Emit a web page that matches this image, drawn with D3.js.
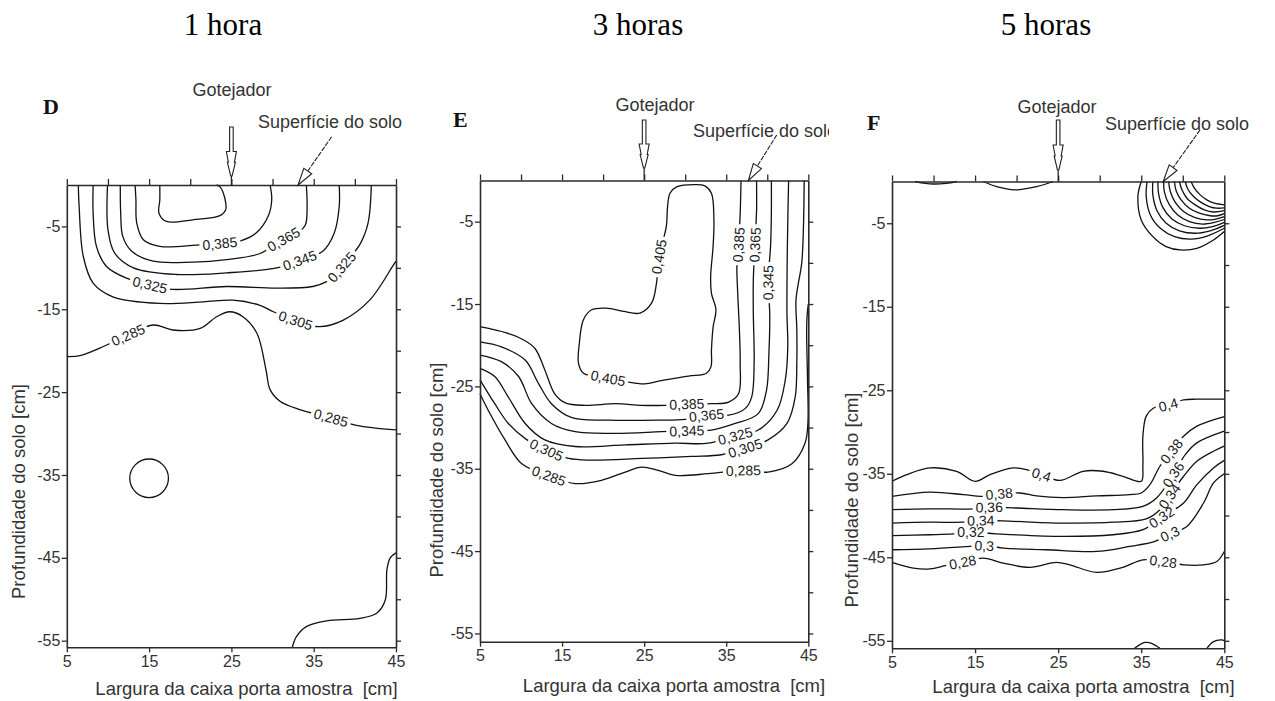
<!DOCTYPE html>
<html><head><meta charset="utf-8">
<script src="https://cdnjs.cloudflare.com/ajax/libs/d3/7.8.5/d3.min.js"></script>
<style>body{margin:0;background:#fff}svg{display:block}</style>
</head><body>
<svg id="chart" width="1275" height="701"></svg>
<script>
// ---------------- DATA ----------------
const panelTitles = ["1 hora", "3 horas", "5 horas"];
const panelLetters = ["D", "E", "F"];
const xDomain = [5, 45];
const xLabelTicks = [5, 15, 25, 35, 45];
const xMinorTicks = [5, 10, 15, 20, 25, 30, 35, 40, 45];
const yLabelTicks = [-5, -15, -25, -35, -45, -55];
const yMinorTicks = [-5, -10, -15, -20, -25, -30, -35, -40, -45, -50, -55];
const emitterX = 25;                       // Gotejador position (cm)
const surfaceTipX = [33.1, 37.7, 37.65];   // "Superfície do solo" arrow tips (cm)
const xTitle = "Largura da caixa porta amostra  [cm]";
const yTitle = "Profundidade do solo [cm]";

// Panel D (1 hora): contour lines [x cm, depth cm]
const contoursD = [
  {level: "0,405", closed: false, pts: [[16.3,0],[16.3,-1.8],[16.2,-3.4],[17.1,-4.4],[20.3,-4.2],[23.6,-3.7],[24.3,-3.0],[24.2,-1.6],[23.6,-0.2],[23.2,0]]},
  {level: "0,385", closed: false, pts: [[13.3,0],[13.4,-1.8],[13.5,-4.6],[14.3,-6.6],[16.3,-7.4],[20.75,-7.25],[23.6,-7.05],[26.2,-6.7],[28.0,-5.8],[29.45,-3.8],[29.9,-1.8],[29.7,0]]},
  {level: "0,365", closed: false, pts: [[11.5,0],[11.55,-3.4],[11.8,-6.2],[12.9,-8.0],[15.5,-9.2],[20.3,-9.3],[24.4,-9.0],[28.4,-8.3],[31.35,-6.55],[33.3,-5.6],[34.0,-4.8],[34.2,-2.6],[34.1,0]]},
  {level: "0,345", closed: false, pts: [[9.95,0],[10.0,-5.4],[10.8,-8.2],[13.1,-10.0],[18.3,-10.8],[24.4,-10.6],[30.5,-10.0],[33.3,-9.1],[36.1,-8.0],[37.5,-5.8],[38.1,-2.6],[38.1,0]]},
  {level: "0,325", closed: false, pts: [[8.2,0],[8.2,-3.4],[8.6,-7.4],[9.8,-9.8],[12.25,-11.25],[15.1,-12.05],[17.9,-12.6],[24.4,-12.25],[30.5,-12.45],[34.9,-12.25],[36.5,-11.7],[37.4,-11.0],[38.4,-9.9],[39.5,-8.6],[40.6,-7.2],[41.6,-4.6],[42.0,0]]},
  {level: "0,305", closed: false, pts: [[6.4,0],[6.5,-2.6],[7.0,-8.6],[8.2,-11.85],[10.6,-13.5],[16.3,-14.3],[21.6,-14.1],[25.2,-13.9],[28.4,-14.5],[30.1,-15.3],[32.8,-16.35],[35.7,-17.1],[38.6,-16.3],[41.8,-13.9],[44.6,-9.8],[45,-9.2]]},
  {level: "0,285", closed: false, pts: [[5,-20.7],[6.6,-20.6],[9.0,-19.7],[12.45,-18.1],[15.5,-16.9],[17.9,-17.5],[21.2,-17.3],[23.2,-15.9],[24.8,-15.3],[26.4,-15.9],[28.1,-17.9],[29.2,-22.3],[29.7,-24.7],[30.9,-26.1],[33.3,-27.1],[37.1,-28.1],[40.2,-29.0],[45,-29.55]]},
  {level: null, closed: true, pts: [[17.35,-35.4],[16.65,-33.75],[15,-33.07],[13.35,-33.75],[12.65,-35.4],[13.35,-37.05],[15,-37.73],[16.65,-37.05]]},
  {level: null, closed: false, pts: [[32.4,-55.8],[32.9,-54.5],[34.1,-53.3],[36.6,-52.6],[40.6,-52.3],[42.65,-51.7],[43.7,-50.1],[43.9,-46.4],[44.3,-45.0],[45,-44.4]]}
];
const labelsD = [
  {text: "0,385", x: 23.6, y: -7.05},
  {text: "0,365", x: 31.35, y: -6.55},
  {text: "0,345", x: 33.3, y: -9.1},
  {text: "0,325", x: 15.1, y: -12.05},
  {text: "0,325", x: 38.4, y: -9.9},
  {text: "0,305", x: 32.8, y: -16.35},
  {text: "0,285", x: 12.45, y: -18.1},
  {text: "0,285", x: 37.1, y: -28.1}
];

// Panel E (3 horas)
const contoursE = [
  {level: "0,405", closed: true, pts: [[31.2,-0.5],[29.0,-0.75],[28.15,-1.55],[27.85,-3.2],[27.7,-5.6],[26.8,-9.25],[26.5,-12.5],[25.9,-14.9],[24.5,-16.1],[22.5,-15.9],[20.4,-15.5],[18.6,-15.7],[17.6,-16.9],[17.1,-19.8],[17.0,-22.2],[17.6,-23.4],[20.6,-24.0],[23.9,-24.6],[25.1,-24.7],[27.1,-24.3],[30.4,-23.75],[32.6,-23.4],[33.15,-22.6],[33.2,-20.6],[33.4,-17.8],[33.75,-15.7],[33.2,-13.7],[33.1,-11.7],[33.4,-8.0],[33.5,-4.8],[33.2,-1.55],[32.4,-0.65]]},
  {level: "0,385", closed: false, pts: [[5,-17.75],[8.2,-18.5],[10.2,-19.3],[11.7,-20.4],[12.9,-23.0],[14.1,-25.9],[15.4,-27.0],[17.8,-27.3],[21.5,-27.1],[24.7,-27.3],[27.5,-27.3],[30.2,-27.15],[33.2,-27.1],[35.3,-26.9],[36.5,-25.9],[36.7,-22.2],[36.6,-18.0],[36.4,-13.7],[36.3,-10.5],[36.5,-7.8],[36.7,-4.0],[36.8,0]]},
  {level: "0,365", closed: false, pts: [[5,-19.6],[7.6,-20.2],[10.5,-21.8],[12.1,-24.6],[13.7,-27.1],[16.2,-28.8],[20.6,-29.1],[26.7,-29.1],[30.0,-29.0],[32.6,-28.5],[35.3,-28.5],[37.3,-27.7],[38.1,-26.3],[38.4,-22.2],[38.3,-16.1],[38.3,-12.1],[38.5,-7.8],[38.7,-3.5],[38.7,0]]},
  {level: "0,345", closed: false, pts: [[5,-21.2],[7.6,-22.0],[9.7,-23.8],[11.3,-27.1],[13.7,-29.5],[16.6,-30.5],[21.45,-30.7],[27.1,-30.5],[30.2,-30.4],[33.2,-30.3],[36.1,-29.5],[38.9,-28.3],[39.9,-25.5],[40.2,-21.0],[40.3,-16.1],[40.1,-12.4],[40.4,-8.0],[40.5,-4.0],[40.5,0]]},
  {level: "0,325", closed: false, pts: [[5,-22.8],[6.8,-23.8],[8.45,-26.3],[10.5,-29.5],[12.9,-31.5],[16.6,-32.3],[22.7,-32.1],[28.8,-31.9],[32.8,-31.9],[36.1,-31.0],[38.9,-30.3],[41.2,-27.9],[42.2,-24.2],[42.5,-20.2],[42.4,-16.1],[42.45,-8.0],[42.6,0]]},
  {level: "0,305", closed: false, pts: [[5,-24.2],[6.8,-27.1],[8.45,-29.5],[10.6,-31.4],[13.1,-32.7],[15.8,-33.75],[18.6,-33.95],[24.7,-33.75],[30.8,-33.5],[34.4,-33.3],[37.3,-32.5],[40.1,-31.5],[42.4,-29.5],[43.4,-26.3],[43.6,-22.2],[43.6,-18.0],[43.5,-14.5],[44.2,-10.0],[44.4,-6.0],[44.5,0]]},
  {level: "0,285", closed: false, pts: [[5,-25.9],[6.0,-27.9],[8.05,-31.5],[10.1,-34.4],[13.4,-35.85],[16.6,-36.8],[19.8,-36.4],[22.7,-35.4],[24.7,-34.8],[26.7,-35.2],[28.8,-35.8],[32.8,-35.6],[37.1,-35.2],[40.1,-35.4],[43.0,-34.4],[44.6,-31.9],[44.95,-29.5],[44.9,-24.0],[44.8,-18.5],[44.85,-16.5],[45,-15.0]]}
];
const labelsE = [
  {text: "0,405", x: 26.8, y: -9.25},
  {text: "0,405", x: 20.6, y: -24.0},
  {text: "0,385", x: 36.5, y: -7.8},
  {text: "0,365", x: 38.5, y: -7.8},
  {text: "0,345", x: 40.1, y: -12.4},
  {text: "0,385", x: 30.2, y: -27.15},
  {text: "0,365", x: 32.6, y: -28.5},
  {text: "0,345", x: 30.2, y: -30.4},
  {text: "0,325", x: 36.1, y: -31.0},
  {text: "0,305", x: 13.1, y: -32.7},
  {text: "0,305", x: 37.3, y: -32.5},
  {text: "0,285", x: 13.4, y: -35.85},
  {text: "0,285", x: 37.1, y: -35.2}
];

// Panel F (5 horas)
const contoursF = [
  {level: null, closed: false, pts: [[7.8,0],[9,-0.22],[10,-0.3],[11.5,-0.22],[12.8,0]]},
  {level: null, closed: false, pts: [[16.0,0],[17.6,-0.62],[19.8,-1.0],[22.4,-0.62],[24.4,0]]},
  {level: null, closed: false, pts: [[35.0,0],[34.6,-1.8],[35.0,-4.6],[36.4,-6.6],[38.0,-7.8],[39.7,-8.2],[41.7,-8.0],[43.7,-7.0],[45,-6.0]]},
  {level: null, closed: false, pts: [[35.7,0],[35.6,-1.8],[36.1,-4.0],[37.3,-5.6],[39.0,-6.6],[41.0,-6.9],[43.0,-6.5],[45,-5.6]]},
  {level: null, closed: false, pts: [[36.4,0],[36.4,-1.6],[36.9,-3.5],[38.0,-5.0],[39.6,-5.9],[41.5,-6.2],[43.3,-5.9],[45,-5.25]]},
  {level: null, closed: false, pts: [[37.0,0],[37.1,-1.5],[37.6,-3.1],[38.7,-4.5],[40.2,-5.3],[42.0,-5.6],[43.6,-5.4],[45,-4.9]]},
  {level: null, closed: false, pts: [[37.7,0],[37.8,-1.3],[38.4,-2.8],[39.4,-4.0],[40.8,-4.8],[42.4,-5.1],[43.8,-4.9],[45,-4.55]]},
  {level: null, closed: false, pts: [[38.3,0],[38.5,-1.2],[39.1,-2.5],[40.1,-3.6],[41.4,-4.3],[42.9,-4.6],[44.0,-4.5],[45,-4.2]]},
  {level: null, closed: false, pts: [[39.0,0],[39.2,-1.1],[39.8,-2.2],[40.8,-3.2],[42.0,-3.8],[43.3,-4.1],[44.2,-4.1],[45,-3.85]]},
  {level: null, closed: false, pts: [[39.6,0],[39.9,-1.0],[40.5,-2.0],[41.5,-2.8],[42.6,-3.4],[43.7,-3.65],[45,-3.5]]},
  {level: null, closed: false, pts: [[40.3,0],[40.6,-0.9],[41.3,-1.8],[42.2,-2.5],[43.2,-3.0],[44.1,-3.2],[45,-3.15]]},
  {level: null, closed: false, pts: [[41.0,0],[41.4,-0.8],[42.1,-1.6],[42.9,-2.2],[43.8,-2.6],[45,-2.8]]},
  {level: "0,4", closed: false, pts: [[5,-35.9],[6.77,-35.1],[9.57,-34.3],[12.78,-34.7],[15.0,-35.9],[16.8,-35.1],[19.6,-34.3],[21.2,-34.5],[23.0,-35.1],[25.2,-35.8],[28.0,-34.7],[30.4,-34.7],[32.8,-35.3],[35.0,-35.9],[35.2,-34.1],[35.2,-30.5],[35.6,-28.1],[36.45,-27.15],[38.25,-26.75],[40.1,-26.15],[41.7,-26.07],[45,-26.07]]},
  {level: "0,38", closed: false, pts: [[5,-37.7],[9.57,-37.2],[13.6,-37.5],[15.8,-37.7],[17.9,-37.4],[20.4,-37.3],[22.4,-37.65],[25.6,-37.85],[29.6,-37.65],[33.6,-37.5],[35.0,-37.3],[36.05,-36.3],[37.25,-34.1],[38.65,-32.3],[40.1,-30.5],[41.7,-29.3],[45,-28.15]]},
  {level: "0,36", closed: false, pts: [[5,-39.3],[9.57,-39.2],[14.8,-39.2],[16.7,-39.0],[20.0,-39.1],[25.6,-39.3],[31.6,-39.3],[35.2,-38.9],[36.85,-37.9],[38.85,-35.1],[40.3,-32.7],[41.7,-31.3],[45,-29.9]]},
  {level: "0,34", closed: false, pts: [[5,-40.9],[9.57,-40.8],[13.6,-40.8],[15.7,-40.6],[19.6,-40.7],[25.6,-40.9],[31.6,-40.8],[35.6,-40.4],[37.25,-39.3],[38.4,-37.7],[40.1,-35.3],[41.7,-33.5],[43.7,-32.3],[45,-31.7]]},
  {level: "0,32", closed: false, pts: [[5,-42.4],[9.57,-42.3],[12.4,-42.2],[14.5,-42.0],[17.6,-42.2],[25.6,-42.5],[31.6,-42.3],[35.2,-41.7],[37.45,-40.2],[40.1,-38.5],[41.7,-36.3],[43.7,-34.3],[45,-33.4]]},
  {level: "0,3", closed: false, pts: [[5,-44.1],[9.57,-44.0],[14.4,-43.7],[16.1,-43.6],[18.4,-43.9],[23.6,-44.1],[29.6,-44.3],[33.6,-43.7],[36.65,-43.1],[38.45,-42.2],[40.5,-41.3],[42.5,-38.5],[43.7,-36.1],[45,-35.0]]},
  {level: "0,28", closed: false, pts: [[5,-45.6],[7.57,-46.3],[9.57,-46.4],[11.4,-46.0],[13.5,-45.6],[16.0,-45.1],[18.4,-45.7],[21.6,-46.2],[24.8,-45.6],[26.4,-45.9],[29.6,-46.8],[32.8,-46.2],[35.2,-45.3],[37.65,-45.5],[40.1,-45.9],[42.5,-45.9],[44.1,-45.5],[45,-44.3]]},
  {level: null, closed: false, pts: [[34.2,-55.9],[35.45,-55.2],[36.25,-55.3],[37.25,-55.9]]},
  {level: null, closed: false, pts: [[42.9,-55.9],[43.7,-55.1],[44.7,-54.9],[45,-55.0]]}
];
const labelsF = [
  {text: "0,4", x: 23.0, y: -35.1},
  {text: "0,4", x: 38.25, y: -26.75},
  {text: "0,38", x: 17.9, y: -37.4},
  {text: "0,38", x: 38.65, y: -32.3},
  {text: "0,36", x: 16.7, y: -39.0},
  {text: "0,36", x: 38.85, y: -35.1},
  {text: "0,34", x: 15.7, y: -40.6},
  {text: "0,34", x: 38.4, y: -37.7},
  {text: "0,32", x: 14.5, y: -42.0},
  {text: "0,32", x: 37.45, y: -40.2},
  {text: "0,3", x: 16.1, y: -43.6},
  {text: "0,3", x: 38.45, y: -42.2},
  {text: "0,28", x: 13.5, y: -45.6},
  {text: "0,28", x: 37.65, y: -45.5}
];

// ---------------- LAYOUT ----------------
const W = 1275, H = 701;
const SANS = '"Liberation Sans", Arial, Helvetica, sans-serif';
const SERIF = '"Liberation Serif", "Times New Roman", serif';
const layout = [
  {x0: 66.8, x1: 396, y0: 185, y1: 647.3, yb: -55.8, title: [223, 35], letter: [43, 114],
   got: {tx: 232, ty: 96, top: 127, tip: 176}, sup: {tx: 258, ty: 128, sx: 331.7, sy: 136.7}, clip: null,
   ytitle: [18.5, 491.5], xtitle: [246.5, 695]},
  {x0: 480, x1: 808.3, y0: 180.5, y1: 641.7, yb: -56.0, title: [638, 35], letter: [453, 126.5],
   got: {tx: 655, ty: 111, top: 120, tip: 168}, sup: {tx: 693, ty: 137, sx: 776.7, sy: 135}, clip: 829,
   ytitle: [436.5, 470], xtitle: [674, 691.7]},
  {x0: 892, x1: 1224.3, y0: 181.5, y1: 648.3, yb: -55.9, title: [1046, 35], letter: [867, 130],
   got: {tx: 1057, ty: 113, top: 120, tip: 170}, sup: {tx: 1105, ty: 129.6, sx: 1200, sy: 130}, clip: null,
   ytitle: [851.7, 500], xtitle: [1083.5, 693]}
];

const svg = d3.select("#chart");
svg.append("rect").attr("width", W).attr("height", H).attr("fill", "#fff");
const defs = svg.append("defs");

function drawPanel(i, contours, labels) {
  const p = layout[i];
  const x = d3.scaleLinear().domain(xDomain).range([p.x0, p.x1]);
  const y = d3.scaleLinear().domain([0, p.yb]).range([p.y0, p.y1]);
  const g = svg.append("g");

  const lineOpen = d3.line().x(d => x(d[0])).y(d => y(d[1])).curve(d3.curveCatmullRom.alpha(0.5));
  const lineClosed = d3.line().x(d => x(d[0])).y(d => y(d[1])).curve(d3.curveCatmullRomClosed.alpha(0.5));

  const linesG = g.append("g");
  const labG = g.append("g");

  const placed = labels.map(l => {
    let best = -1, bd = Infinity, bi = 0;
    contours.forEach((c, ci) => {
      if (c.level !== l.text) return;
      c.pts.forEach((pt, k) => {
        const dx = x(pt[0]) - x(l.x), dy = y(pt[1]) - y(l.y);
        const dd = dx * dx + dy * dy;
        if (dd < bd) { bd = dd; best = ci; bi = k; }
      });
    });
    const c = contours[best], n = c.pts.length;
    const a = c.closed ? c.pts[(bi - 1 + n) % n] : c.pts[Math.max(0, bi - 1)];
    const b = c.closed ? c.pts[(bi + 1) % n] : c.pts[Math.min(n - 1, bi + 1)];
    let ang = Math.atan2(y(b[1]) - y(a[1]), x(b[0]) - x(a[0])) * 180 / Math.PI;
    if (ang >= 90) ang -= 180;
    if (ang < -90) ang += 180;
    return {l, ci: best, px: x(l.x), py: y(l.y), ang};
  });
  placed.forEach(d => {
    const t = labG.append("text")
      .attr("transform", `translate(${d.px},${d.py}) rotate(${d.ang})`)
      .attr("text-anchor", "middle").attr("dy", "0.36em")
      .attr("font-family", SANS).attr("font-size", 14).attr("fill", "#1a1a1a")
      .text(d.l.text);
    d.w = t.node().getComputedTextLength();
  });

  contours.forEach((c, ci) => {
    const mine = placed.filter(d => d.ci === ci);
    let maskId = null;
    if (mine.length) {
      maskId = `mask${i}_${ci}`;
      const m = defs.append("mask").attr("id", maskId).attr("maskUnits", "userSpaceOnUse")
        .attr("x", 0).attr("y", 0).attr("width", W).attr("height", H);
      m.append("rect").attr("width", W).attr("height", H).attr("fill", "#fff");
      mine.forEach(d => m.append("rect")
        .attr("x", -d.w / 2 - 3).attr("y", -7.5).attr("width", d.w + 6).attr("height", 15)
        .attr("transform", `translate(${d.px},${d.py}) rotate(${d.ang})`).attr("fill", "#000"));
    }
    linesG.append("path")
      .attr("d", (c.closed ? lineClosed : lineOpen)(c.pts))
      .attr("fill", "none").attr("stroke", "#111").attr("stroke-width", 1.3)
      .attr("mask", maskId ? `url(#${maskId})` : null);
  });

  // axes
  const axG = g.append("g").attr("font-family", SANS);
  const fmt = d => String(d);
  const top = axG.append("g").attr("transform", `translate(0,${y(0)})`)
    .call(d3.axisTop(x).tickValues(xMinorTicks).tickSize(6).tickSizeOuter(0).tickFormat(""));
  const bottom = axG.append("g").attr("transform", `translate(0,${y(p.yb)})`)
    .call(d3.axisBottom(x).tickValues(xLabelTicks).tickSize(5).tickSizeOuter(0).tickPadding(3).tickFormat(fmt));
  const left = axG.append("g").attr("transform", `translate(${x(5)},0)`)
    .call(d3.axisLeft(y).tickValues(yLabelTicks).tickSize(5).tickSizeOuter(0).tickPadding(1.5).tickFormat(fmt));
  const right = axG.append("g").attr("transform", `translate(${x(45)},0)`)
    .call(d3.axisRight(y).tickValues(yMinorTicks).tickSize(5).tickSizeOuter(0).tickFormat(""));
  [top, bottom, left, right].forEach(a => {
    a.attr("font-size", 16);
    a.selectAll("path.domain").attr("stroke", "#2a2a2a").attr("stroke-width", 1.6);
    a.selectAll(".tick line").attr("stroke", "#2a2a2a").attr("stroke-width", 1.3);
    a.selectAll(".tick text").attr("font-size", 16).attr("fill", "#333").attr("font-family", SANS);
  });

  // titles
  svg.append("text").attr("x", p.title[0]).attr("y", p.title[1]).attr("text-anchor", "middle")
    .attr("font-family", SERIF).attr("font-size", 31).attr("fill", "#000").text(panelTitles[i]);
  svg.append("text").attr("x", p.letter[0]).attr("y", p.letter[1])
    .attr("font-family", SERIF).attr("font-weight", "bold").attr("font-size", 22).attr("fill", "#111")
    .text(panelLetters[i]);
  svg.append("text").attr("x", p.xtitle[0]).attr("y", p.xtitle[1]).attr("text-anchor", "middle")
    .attr("font-family", SANS).attr("font-size", 18.5).attr("fill", "#333")
    .style("white-space", "pre").text(xTitle);
  svg.append("text").attr("transform", `translate(${p.ytitle[0]},${p.ytitle[1]}) rotate(-90)`)
    .attr("text-anchor", "middle").attr("dy", "0.35em")
    .attr("font-family", SANS).attr("font-size", 18.5).attr("fill", "#333").text(yTitle);

  // Gotejador arrow
  const cx = x(emitterX), t = p.got.top, tip = p.got.tip;
  svg.append("text").attr("x", p.got.tx).attr("y", p.got.ty).attr("text-anchor", "middle")
    .attr("font-family", SANS).attr("font-size", 18).attr("fill", "#333").text("Gotejador");
  const hl = tip - t;
  const headTop = t + hl * 0.5;
  const path = d3.path();
  path.moveTo(cx - 1.8, t); path.lineTo(cx - 1.8, headTop); path.lineTo(cx - 5, headTop);
  path.lineTo(cx - 3, headTop + hl * 0.22); path.lineTo(cx - 4, headTop + hl * 0.22);
  path.lineTo(cx - 0.7, tip); path.lineTo(cx + 0.7, tip);
  path.lineTo(cx + 4, headTop + hl * 0.22); path.lineTo(cx + 3, headTop + hl * 0.22);
  path.lineTo(cx + 5, headTop); path.lineTo(cx + 1.8, headTop); path.lineTo(cx + 1.8, t); path.closePath();
  svg.append("path").attr("d", path.toString()).attr("fill", "#fff").attr("stroke", "#222").attr("stroke-width", 1.1);
  svg.append("line").attr("x1", cx).attr("x2", cx).attr("y1", tip).attr("y2", y(0))
    .attr("stroke", "#222").attr("stroke-width", 1.2);

  // Superfície do solo
  const supText = svg.append("text").attr("x", p.sup.tx).attr("y", p.sup.ty)
    .attr("font-family", SANS).attr("font-size", 18).attr("fill", "#333").text("Superfície do solo");
  if (p.clip) {
    const cid = `clip${i}`;
    defs.append("clipPath").attr("id", cid).append("rect").attr("x", 0).attr("y", 0).attr("width", p.clip).attr("height", H);
    supText.attr("clip-path", `url(#${cid})`);
  }
  const tx = x(surfaceTipX[i]), ty = y(0);
  const dx = tx - p.sup.sx, dy = ty - p.sup.sy, len = Math.hypot(dx, dy);
  const ux = dx / len, uy = dy / len, nx = -uy, ny = ux;
  const bx = tx - ux * 17, by = ty - uy * 17;
  svg.append("line").attr("x1", p.sup.sx).attr("y1", p.sup.sy).attr("x2", bx).attr("y2", by)
    .attr("stroke", "#222").attr("stroke-width", 1.1).attr("stroke-dasharray", "5,1.2");
  svg.append("path")
    .attr("d", `M${tx},${ty}L${bx + nx * 4.8},${by + ny * 4.8}L${bx - nx * 4.8},${by - ny * 4.8}Z`)
    .attr("fill", "#fff").attr("stroke", "#222").attr("stroke-width", 1.1);
}

drawPanel(0, contoursD, labelsD);
drawPanel(1, contoursE, labelsE);
drawPanel(2, contoursF, labelsF);
</script>
</body></html>
